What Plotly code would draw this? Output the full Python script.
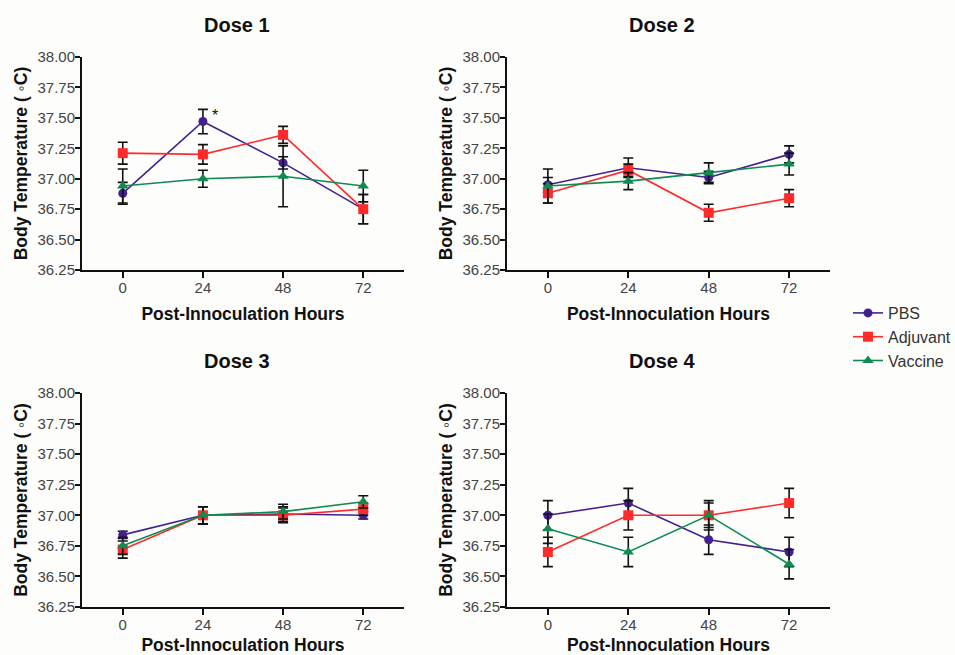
import plotly.graph_objects as go

hours = [0, 24, 48, 72]
series_names = ["PBS", "Adjuvant", "Vaccine"]

# Dose panels: mean values and SEM per series
dose1_pbs = [36.88, 37.47, 37.13, 36.75]
dose1_pbs_err = [0.09, 0.10, 0.05, 0.12]
dose1_adj = [37.21, 37.20, 37.36, 36.75]
dose1_adj_err = [0.09, 0.08, 0.07, 0.12]
dose1_vac = [36.94, 37.00, 37.02, 36.94]
dose1_vac_err = [0.14, 0.07, 0.25, 0.13]

dose2_pbs = [36.95, 37.09, 37.01, 37.20]
dose2_pbs_err = [0.06, 0.08, 0.05, 0.07]
dose2_adj = [36.88, 37.07, 36.72, 36.84]
dose2_adj_err = [0.08, 0.05, 0.07, 0.07]
dose2_vac = [36.94, 36.98, 37.05, 37.12]
dose2_vac_err = [0.14, 0.07, 0.08, 0.09]

dose3_pbs = [36.84, 37.00, 37.01, 37.00]
dose3_pbs_err = [0.03, 0.07, 0.06, 0.03]
dose3_adj = [36.72, 37.00, 37.00, 37.05]
dose3_adj_err = [0.07, 0.07, 0.06, 0.05]
dose3_vac = [36.75, 37.00, 37.03, 37.11]
dose3_vac_err = [0.07, 0.07, 0.06, 0.05]

dose4_pbs = [37.00, 37.10, 36.80, 36.70]
dose4_pbs_err = [0.12, 0.12, 0.12, 0.12]
dose4_adj = [36.70, 37.00, 37.00, 37.10]
dose4_adj_err = [0.12, 0.12, 0.10, 0.12]
dose4_vac = [36.89, 36.70, 37.00, 36.60]
dose4_vac_err = [0.12, 0.12, 0.12, 0.12]

panel_titles = ["Dose 1", "Dose 2", "Dose 3", "Dose 4"]
y_ticks = [36.25, 36.50, 36.75, 37.00, 37.25, 37.50, 37.75, 38.00]

panels = [
    [(dose1_pbs, dose1_pbs_err), (dose1_adj, dose1_adj_err), (dose1_vac, dose1_vac_err)],
    [(dose2_pbs, dose2_pbs_err), (dose2_adj, dose2_adj_err), (dose2_vac, dose2_vac_err)],
    [(dose3_pbs, dose3_pbs_err), (dose3_adj, dose3_adj_err), (dose3_vac, dose3_vac_err)],
    [(dose4_pbs, dose4_pbs_err), (dose4_adj, dose4_adj_err), (dose4_vac, dose4_vac_err)],
]

colors = ["#44208f", "#ff2b2b", "#0f8a50"]
symbols = ["circle", "square", "triangle-up"]
msizes = [9, 10, 10]

W, H = 955, 655
# pixel boxes (x0, x1, ytop, ybottom)
boxes = [(82, 404, 57, 270), (507, 830, 57, 270), (82, 404, 393, 607), (507, 830, 393, 607)]

fig = go.Figure()
FONT = "Liberation Sans, Arial, sans-serif"

for p, (series, box) in enumerate(zip(panels, boxes)):
    xa = "x" if p == 0 else f"x{p+1}"
    ya = "y" if p == 0 else f"y{p+1}"
    for s, (vals, errs) in enumerate(series):
        fig.add_trace(go.Scatter(
            x=hours, y=vals, mode="lines+markers", name=series_names[s],
            legendgroup=series_names[s], showlegend=(p == 0),
            line=dict(color=colors[s], width=1.6),
            marker=dict(color=colors[s], symbol=symbols[s], size=msizes[s], line=dict(width=0)),
            error_y=dict(type="data", array=errs, color="#111111", thickness=1.6, width=5),
            xaxis=xa, yaxis=ya,
        ))
    x0, x1, yt, yb = box
    axx = "xaxis" if p == 0 else f"xaxis{p+1}"
    axy = "yaxis" if p == 0 else f"yaxis{p+1}"
    fig.layout[axx] = dict(
        domain=[x0 / W, x1 / W], anchor=ya, range=[-12.2, 84.2],
        tickvals=hours, ticktext=[str(h) for h in hours],
        showline=True, linecolor="#111111", linewidth=2, ticks="outside", ticklen=6,
        tickwidth=1.8, tickcolor="#111111", showgrid=False, zeroline=False,
        tickfont=dict(size=15, color="#444444", family=FONT), ticklabelstandoff=-3,
        title=dict(text="<b>Post-Innoculation Hours</b>", font=dict(size=17.5, color="#111111", family=FONT), standoff=13),
    )
    fig.layout[axy] = dict(
        domain=[1 - yb / H, 1 - yt / H], anchor=xa, range=[36.25, 38.0],
        tickvals=y_ticks, tickformat=".2f",
        showline=True, linecolor="#111111", linewidth=2, ticks="outside", ticklen=5,
        tickwidth=1.8, tickcolor="#111111", showgrid=False, zeroline=False,
        tickfont=dict(size=15, color="#444444", family=FONT), ticklabelstandoff=-3,
        title=dict(text="<b>Body Temperature ( ◦C)</b>", font=dict(size=17.5, color="#111111", family=FONT), standoff=5),
    )
    fig.add_annotation(
        text=f"<b>{panel_titles[p]}</b>", xref="paper", yref="paper",
        x=(x0 + x1) / 2 / W - 6 / W, y=1 - (yt - 32) / H, showarrow=False,
        font=dict(size=20, color="#111111", family=FONT), xanchor="center", yanchor="middle",
    )

fig.add_annotation(text="*", x=24, y=dose1_pbs[1], xref="x", yref="y", showarrow=False,
                   xshift=12, yshift=6, font=dict(size=16, color="#111111", family=FONT))

fig.update_layout(
    width=W, height=H, margin=dict(l=0, r=0, t=0, b=0, autoexpand=False),
    paper_bgcolor="#fdfdfb", plot_bgcolor="rgba(0,0,0,0)",
    showlegend=True,
    legend=dict(x=848 / W, y=1 - 296 / H, xanchor="left", yanchor="top",
                font=dict(size=16, color="#333333", family=FONT),
                bgcolor="rgba(0,0,0,0)", itemwidth=30, tracegroupgap=0),
)

fig.write_html("out.html", config={"displayModeBar": False},
               post_script="document.body.style.margin='0';document.body.style.padding='0';")
